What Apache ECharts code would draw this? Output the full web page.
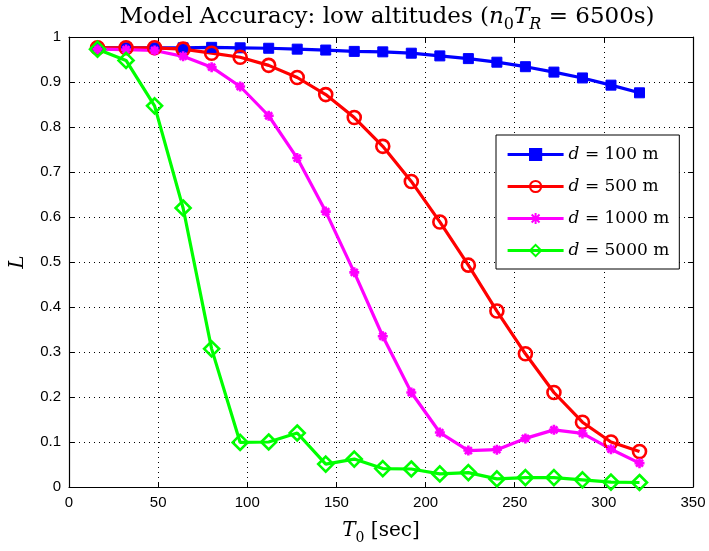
<!DOCTYPE html>
<html>
<head>
<meta charset="utf-8">
<script src="https://cdn.jsdelivr.net/npm/echarts@6/dist/echarts.min.js"></script>
<style>
  html, body { margin: 0; padding: 0; background: #fff; }
  #chart { width: 709px; height: 551px; }
</style>
</head>
<body>
<div id="chart"></div>
<script>
// Observation period T0 (seconds)
const t0 = [16, 32, 48, 64, 80, 96, 112, 128, 144, 160, 176, 192, 208, 224, 240, 256, 272, 288, 304, 320];

// Accuracy L for each separation distance d
const d100 = [0.976, 0.976, 0.976, 0.976, 0.977, 0.976, 0.975, 0.973, 0.971, 0.968, 0.967, 0.964, 0.958, 0.952, 0.944, 0.934, 0.922, 0.909, 0.893, 0.876];
const d500 = [0.976, 0.976, 0.976, 0.973, 0.964, 0.955, 0.937, 0.910, 0.872, 0.821, 0.757, 0.679, 0.589, 0.493, 0.391, 0.296, 0.210, 0.144, 0.100, 0.079];
const d1000 = [0.973, 0.972, 0.970, 0.957, 0.933, 0.890, 0.825, 0.731, 0.612, 0.477, 0.335, 0.210, 0.121, 0.081, 0.083, 0.108, 0.127, 0.119, 0.084, 0.053];
const d5000 = [0.973, 0.948, 0.847, 0.620, 0.307, 0.099, 0.100, 0.120, 0.051, 0.062, 0.041, 0.040, 0.029, 0.032, 0.018, 0.021, 0.021, 0.016, 0.011, 0.010];

const seriesNames = ['d = 100 m', 'd = 500 m', 'd = 1000 m', 'd = 5000 m'];

const xTicks = [0, 50, 100, 150, 200, 250, 300, 350];
const yTicks = [0, 0.1, 0.2, 0.3, 0.4, 0.5, 0.6, 0.7, 0.8, 0.9, 1];

const serif = '"DejaVu Serif", "Liberation Serif", serif';
const sans = '"Liberation Sans", Arial, sans-serif';

const pairs = ys => ys.map((y, i) => [t0[i], y]);

// Asterisk marker drawn as strokes
const asterisk = 'path://M0,5L10,5M5,0L5,10M1.5,1.5L8.5,8.5M8.5,1.5L1.5,8.5';

const chart = echarts.init(document.getElementById('chart'), null, { renderer: 'canvas' });

// Rich-text styles for the math-like labels (italic symbols, subscripts)
function mathRich(size) {
  const sub = Math.round(size * 0.7);
  const lh = size + 8;
  return {
    a: { fontFamily: serif, fontSize: size, fontWeight: 'normal', color: '#000', lineHeight: lh },
    i: { fontFamily: serif, fontSize: size, fontWeight: 'normal', fontStyle: 'italic', color: '#000', lineHeight: lh },
    s: { fontFamily: serif, fontSize: sub, fontWeight: 'normal', color: '#000', lineHeight: sub, verticalAlign: 'bottom' },
    si: { fontFamily: serif, fontSize: sub, fontWeight: 'normal', fontStyle: 'italic', color: '#000', lineHeight: sub, verticalAlign: 'bottom' }
  };
}

const gridLine = { show: true, lineStyle: { color: '#000', type: [1, 4], width: 1 } };

function lineSeries(name, ys, color, symbol, size, filled) {
  return {
    name: name,
    type: 'line',
    data: pairs(ys),
    symbol: symbol,
    symbolSize: size,
    showAllSymbol: true,
    lineStyle: { color: color, width: 3.2 },
    itemStyle: filled
      ? { color: color, borderColor: color, borderWidth: 1 }
      : { color: 'transparent', borderColor: color, borderWidth: 2.6 },
    emphasis: { disabled: true },
    animation: false,
    z: 3
  };
}

const boxAxis = {
  axisLine: { show: true, onZero: false, lineStyle: { color: '#000', width: 1.2 } },
  axisTick: { show: true, inside: true, length: 5, lineStyle: { color: '#000' } }
};

chart.setOption({
  animation: false,
  backgroundColor: '#fff',
  title: {
    text: '{a|Model Accuracy: low altitudes (}{i|n}{s|0}{i|T}{si|R}{a| = 6500s)}',
    left: 382,
    textAlign: 'center',
    top: -3,
    textStyle: { fontWeight: 'normal', rich: mathRich(23) }
  },
  legend: {
    orient: 'vertical',
    left: 496,
    top: 135,
    padding: [11, 10, 10, 10],
    itemWidth: 56,
    itemHeight: 14,
    itemGap: 15,
    backgroundColor: '#fff',
    borderColor: '#000',
    borderWidth: 1,
    z: 10,
    data: seriesNames,
    lineStyle: { width: 3.2 },
    formatter: n => '{i|d}{a|' + n.slice(1) + '}',
    textStyle: {
      rich: {
        a: { fontFamily: serif, fontSize: 17, color: '#000', lineHeight: 14 },
        i: { fontFamily: serif, fontSize: 17, fontStyle: 'italic', color: '#000', lineHeight: 14 }
      }
    }
  },
  grid: { left: 68, right: 16, top: 37, bottom: 64, containLabel: false },
  xAxis: [
    Object.assign({
      type: 'value',
      min: xTicks[0],
      max: xTicks[xTicks.length - 1],
      interval: 50,
      position: 'bottom',
      name: '{i|T}{s|0}{a| [sec]}',
      nameLocation: 'middle',
      nameGap: 30,
      nameTextStyle: { rich: mathRich(20) },
      axisLabel: { fontFamily: sans, fontSize: 15, color: '#000', margin: 8 },
      splitLine: gridLine
    }, boxAxis),
    Object.assign({
      type: 'value',
      min: xTicks[0],
      max: xTicks[xTicks.length - 1],
      interval: 50,
      position: 'top',
      axisLabel: { show: false },
      splitLine: { show: false }
    }, boxAxis)
  ],
  yAxis: [
    Object.assign({
      type: 'value',
      min: yTicks[0],
      max: yTicks[yTicks.length - 1],
      interval: 0.1,
      position: 'left',
      name: '{i|L}',
      nameLocation: 'middle',
      nameGap: 37,
      nameTextStyle: { rich: mathRich(20) },
      axisLabel: {
        fontFamily: sans, fontSize: 15, color: '#000', margin: 8,
        formatter: v => (Math.round(v * 10) / 10).toString()
      },
      splitLine: gridLine
    }, boxAxis),
    Object.assign({
      type: 'value',
      min: yTicks[0],
      max: yTicks[yTicks.length - 1],
      interval: 0.1,
      position: 'right',
      axisLabel: { show: false },
      splitLine: { show: false }
    }, boxAxis)
  ],
  series: [
    lineSeries(seriesNames[0], d100, '#0000ff', 'rect', 10, true),
    lineSeries(seriesNames[1], d500, '#ff0000', 'circle', 13, false),
    lineSeries(seriesNames[2], d1000, '#ff00ff', asterisk, 10, false),
    lineSeries(seriesNames[3], d5000, '#00ff00', 'diamond', 15, false)
  ]
});
</script>
</body>
</html>
